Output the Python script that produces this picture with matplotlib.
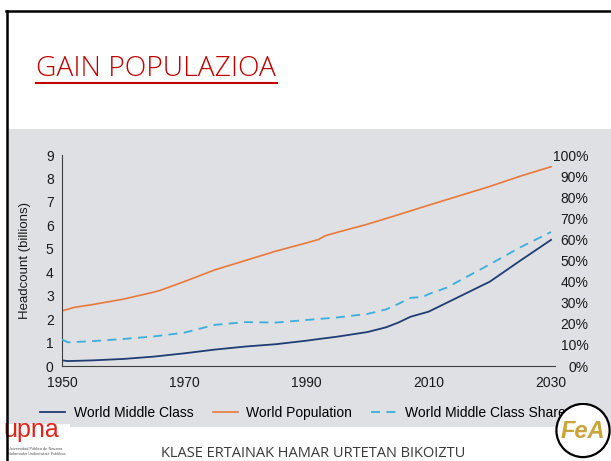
import numpy as np
import matplotlib
matplotlib.use("Agg")
import matplotlib.pyplot as plt
from matplotlib import font_manager
from matplotlib.patches import Rectangle, Circle
from matplotlib.lines import Line2D

plt.rcParams['font.family'] = ['Liberation Sans', 'DejaVu Sans']

# data
years_pop = [1950, 1952, 1955, 1960, 1965, 1966, 1970, 1975, 1980, 1985, 1990,
             1992, 1993, 1995, 2000, 2005, 2010, 2015, 2020, 2025, 2030]
world_pop = [2.35, 2.5, 2.62, 2.85, 3.15, 3.22, 3.6, 4.1, 4.5, 4.9, 5.25,
             5.4, 5.55, 5.7, 6.05, 6.45, 6.86, 7.26, 7.66, 8.1, 8.5]

years_mc = [1950, 1951, 1955, 1960, 1965, 1970, 1975, 1980, 1985, 1990, 1992,
            1995, 2000, 2003, 2005, 2007, 2010, 2015, 2020, 2025, 2030]
middle_class = [0.24, 0.21, 0.24, 0.3, 0.4, 0.54, 0.7, 0.83, 0.93, 1.08, 1.15,
                1.25, 1.45, 1.65, 1.85, 2.1, 2.32, 2.96, 3.6, 4.5, 5.38]

years_share = [1950, 1951, 1955, 1960, 1965, 1970, 1975, 1980, 1985, 1990, 1995,
               2000, 2003, 2005, 2007, 2009, 2010, 2013, 2015, 2017, 2020, 2025, 2030]
mc_share = [12.5, 11.2, 11.8, 12.8, 14.0, 15.8, 19.5, 20.8, 20.6, 21.8, 23.0,
            24.7, 26.8, 29.4, 32.3, 32.7, 34.1, 37.2, 40.4, 43.5, 48.2, 56.3, 63.5]

xticks = [1950, 1970, 1990, 2010, 2030]
left_ticks = list(range(0, 10))
right_ticks = list(range(0, 101, 10))

W, H = 611, 461
def fx(px):
    return px / W
def fy(py):
    return 1 - py / H

fig = plt.figure(figsize=(W / 100, H / 100), dpi=100)
fig.patch.set_facecolor('white')
renderer = fig.canvas.get_renderer()

# grey chart panel
fig.add_artist(Rectangle((fx(8), fy(427)), fx(611) - fx(8), (427 - 129) / H,
                         transform=fig.transFigure, facecolor='#DEE0E3',
                         edgecolor='none', zorder=-1))

# slide border
fig.add_artist(Line2D([fx(6.5), fx(6.5)], [fy(11.5), 0], transform=fig.transFigure,
                      color='black', lw=1.8, zorder=20))
fig.add_artist(Line2D([fx(5.5), 1], [fy(11.5), fy(11.5)], transform=fig.transFigure,
                      color='black', lw=1.8, zorder=20))

# title (narrow font if there is one, otherwise fit Open Sans to the width)
names = {f.name for f in font_manager.fontManager.ttflist}
title_font = 'Liberation Sans Narrow' if 'Liberation Sans Narrow' in names else 'Open Sans'
title = fig.text(fx(36), fy(76), 'GAIN POPULAZIOA', color='#C00000', fontsize=23,
                 family=[title_font, 'DejaVu Sans'], weight='light', va='baseline')
tw = title.get_window_extent(renderer).width
title.set_fontsize(23 * 241 / tw)
fig.add_artist(Line2D([fx(36), fx(277)], [fy(82.5), fy(82.5)], transform=fig.transFigure,
                      color='#C00000', lw=1.5))

# chart
ax = fig.add_axes([fx(62), fy(366), fx(555) - fx(62), (366 - 155) / H])
ax.set_facecolor('none')
ax.plot(years_mc, middle_class, color='#1F3C73', lw=1.3, label='World Middle Class')
ax.plot(years_pop, world_pop, color='#E8793A', lw=1.2, label='World Population')
ax.set_xlim(1950, 2030.65)
ax.set_ylim(0, 9)
ax.set_xticks(xticks)
ax.set_yticks(left_ticks)
ax.tick_params(axis='both', length=0, labelsize=10, colors='#1a1a1a')
ax.tick_params(axis='y', pad=6)
ax.tick_params(axis='x', pad=7)
for s in ['top', 'right']:
    ax.spines[s].set_visible(False)
for s in ['left', 'bottom']:
    ax.spines[s].set_color('#404040')
    ax.spines[s].set_linewidth(0.8)
ax.set_ylabel('Headcount (billions)', fontsize=9.5, color='#1a1a1a')
ax.yaxis.set_label_coords(-0.063, 0.5)

ax2 = ax.twinx()
ax2.plot(years_share, mc_share, color='#3AAEDC', lw=1.3, dashes=(5, 3.5),
         label='World Middle Class Share')
ax2.set_ylim(0, 100)
ax2.set_yticks(right_ticks)
ax2.set_yticklabels([f'{v}%' for v in right_ticks])
ax2.tick_params(axis='y', length=0, pad=24, labelsize=10, colors='#1a1a1a')
for lbl in ax2.get_yticklabels():
    lbl.set_ha('right')
for s in ax2.spines.values():
    s.set_visible(False)

handles = ax.get_lines() + ax2.get_lines()
fig.legend(handles, [h.get_label() for h in handles], loc='center',
           bbox_to_anchor=(fx(303), fy(413)), ncol=3, frameon=False, fontsize=10,
           handlelength=1.8, handletextpad=0.6, columnspacing=1.4)

# upna logo
fig.add_artist(Rectangle((fx(8), 0), fx(70) - fx(8), fy(424), transform=fig.transFigure,
                         facecolor='white', edgecolor='none', zorder=2))
fig.text(fx(3), fy(437), 'upna', color='#E2231A', fontsize=18, va='baseline', zorder=3)
fig.text(fx(8), fy(450), 'Universidad Pública de Navarra', color='#555555',
         fontsize=2.8, va='baseline', zorder=3)
fig.text(fx(8), fy(455), 'Nafarroako Unibertsitate Publikoa', color='#555555',
         fontsize=2.8, va='baseline', zorder=3)

# footer
fig.text(fx(313.5), fy(456.5), 'KLASE ERTAINAK HAMAR URTETAN BIKOIZTU', ha='center',
         va='baseline', fontsize=10.5, family=['Open Sans', 'DejaVu Sans'], color='#3a3a3a')

# FeA logo
lax = fig.add_axes([fx(555), fy(458.5), fx(611) - fx(555), 56 / H], zorder=10)
lax.set_xlim(-1, 1)
lax.set_ylim(-1, 1)
lax.set_aspect('equal')
lax.axis('off')
lax.add_patch(Circle((0, 0), 0.95, facecolor='white', edgecolor='black', lw=1.6))
lax.text(0, -0.05, 'FeA', ha='center', va='center', fontsize=17, style='italic',
         weight='bold', color='#C9A53B')

fig.savefig('out.png', dpi=100)
